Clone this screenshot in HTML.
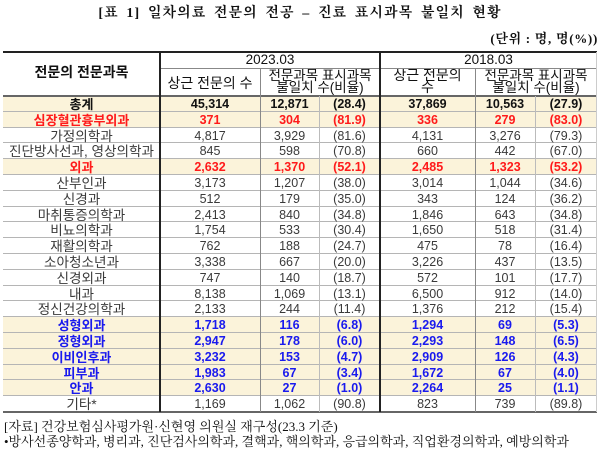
<!DOCTYPE html>
<html>
<head>
<meta charset="utf-8">
<style>
  html,body{margin:0;padding:0;background:#fff;}
  body{width:600px;height:452px;position:relative;overflow:hidden;font-family:"Liberation Sans","Noto Sans CJK KR",sans-serif;}
  .title{position:absolute;left:0;width:600px;top:4px;text-align:center;font-family:"Liberation Serif","Noto Serif CJK KR","Noto Serif CJK SC",serif;font-weight:bold;font-size:14px;letter-spacing:1.1px;word-spacing:3px;color:#111;line-height:20px;white-space:nowrap;}
  .unit{position:absolute;right:2px;top:30px;font-family:"Liberation Serif","Noto Serif CJK KR","Noto Serif CJK SC",serif;font-weight:bold;font-size:13px;letter-spacing:0.7px;color:#111;line-height:18px;white-space:nowrap;}
  .foot{position:absolute;left:4px;font-family:"Liberation Serif","Noto Serif CJK KR","Noto Serif CJK SC",serif;font-size:13px;color:#111;white-space:nowrap;line-height:15px;}
  .hline{position:absolute;height:0;}
  .vline{position:absolute;width:0;}
  .hd{position:absolute;text-align:center;font-size:13.5px;color:#111;line-height:12px;white-space:nowrap;}
  .row{position:absolute;left:3px;width:594px;height:15.8px;box-sizing:border-box;border-bottom:1px solid #b5b5b5;}
  .row span{position:absolute;top:1px;line-height:15px;text-align:center;font-size:12.5px;color:#3a3a3a;white-space:nowrap;}
  .row span.c0{font-size:13.6px;}
  .row .c0{left:0;width:157px;}
  .row .c1{left:157px;width:100px;}
  .row .c2{left:257px;width:59px;}
  .row .c3{left:316px;width:61px;}
  .row .c4{left:377px;width:95px;}
  .row .c5{left:472px;width:60px;}
  .row .c6{left:532px;width:62px;}
  .hl{background:#fbf3da;}
  .bk span{font-weight:bold;color:#111;}
  .rd span{font-weight:bold;color:#ff1a1a;}
  .bl span{font-weight:bold;color:#1a1aee;}
  .bk span.c0,.rd span.c0,.bl span.c0{font-size:13px;}
</style>
</head>
<body>
<div class="title">[표 1] 일차의료 전문의 전공 – 진료 표시과목 불일치 현황</div>
<div class="unit">(단위 : 명, 명(%))</div>

<!-- header texts -->
<div class="hd" style="left:3px;width:157px;top:66px;font-weight:bold;font-size:14px;">전문의 전문과목</div>
<div class="hd" style="left:160px;width:220px;top:54px;">2023.03</div>
<div class="hd" style="left:380px;width:217px;top:54px;">2018.03</div>
<div class="hd" style="left:160px;width:100px;top:77px;font-size:14px;">상근 전문의 수</div>
<div class="hd" style="left:260px;width:120px;top:70px;line-height:11.5px;">전문과목 표시과목<br>불일치 수(비율)</div>
<div class="hd" style="left:380px;width:95px;top:70px;line-height:11.5px;font-size:14px;">상근 전문의<br>수</div>
<div class="hd" style="left:475px;width:122px;top:70px;line-height:11.5px;">전문과목 표시과목<br>불일치 수(비율)</div>

<!-- rows -->
<div class="row hl bk" style="top:96px;"><span class="c0">총계</span><span class="c1">45,314</span><span class="c2">12,871</span><span class="c3">(28.4)</span><span class="c4">37,869</span><span class="c5">10,563</span><span class="c6">(27.9)</span></div>
<div class="row hl rd" style="top:111.8px;"><span class="c0">심장혈관흉부외과</span><span class="c1">371</span><span class="c2">304</span><span class="c3">(81.9)</span><span class="c4">336</span><span class="c5">279</span><span class="c6">(83.0)</span></div>
<div class="row" style="top:127.6px;"><span class="c0">가정의학과</span><span class="c1">4,817</span><span class="c2">3,929</span><span class="c3">(81.6)</span><span class="c4">4,131</span><span class="c5">3,276</span><span class="c6">(79.3)</span></div>
<div class="row" style="top:143.4px;"><span class="c0">진단방사선과, 영상의학과</span><span class="c1">845</span><span class="c2">598</span><span class="c3">(70.8)</span><span class="c4">660</span><span class="c5">442</span><span class="c6">(67.0)</span></div>
<div class="row hl rd" style="top:159.2px;"><span class="c0">외과</span><span class="c1">2,632</span><span class="c2">1,370</span><span class="c3">(52.1)</span><span class="c4">2,485</span><span class="c5">1,323</span><span class="c6">(53.2)</span></div>
<div class="row" style="top:175px;"><span class="c0">산부인과</span><span class="c1">3,173</span><span class="c2">1,207</span><span class="c3">(38.0)</span><span class="c4">3,014</span><span class="c5">1,044</span><span class="c6">(34.6)</span></div>
<div class="row" style="top:190.8px;"><span class="c0">신경과</span><span class="c1">512</span><span class="c2">179</span><span class="c3">(35.0)</span><span class="c4">343</span><span class="c5">124</span><span class="c6">(36.2)</span></div>
<div class="row" style="top:206.6px;"><span class="c0">마취통증의학과</span><span class="c1">2,413</span><span class="c2">840</span><span class="c3">(34.8)</span><span class="c4">1,846</span><span class="c5">643</span><span class="c6">(34.8)</span></div>
<div class="row" style="top:222.4px;"><span class="c0">비뇨의학과</span><span class="c1">1,754</span><span class="c2">533</span><span class="c3">(30.4)</span><span class="c4">1,650</span><span class="c5">518</span><span class="c6">(31.4)</span></div>
<div class="row" style="top:238.2px;"><span class="c0">재활의학과</span><span class="c1">762</span><span class="c2">188</span><span class="c3">(24.7)</span><span class="c4">475</span><span class="c5">78</span><span class="c6">(16.4)</span></div>
<div class="row" style="top:254px;"><span class="c0">소아청소년과</span><span class="c1">3,338</span><span class="c2">667</span><span class="c3">(20.0)</span><span class="c4">3,226</span><span class="c5">437</span><span class="c6">(13.5)</span></div>
<div class="row" style="top:269.8px;"><span class="c0">신경외과</span><span class="c1">747</span><span class="c2">140</span><span class="c3">(18.7)</span><span class="c4">572</span><span class="c5">101</span><span class="c6">(17.7)</span></div>
<div class="row" style="top:285.6px;"><span class="c0">내과</span><span class="c1">8,138</span><span class="c2">1,069</span><span class="c3">(13.1)</span><span class="c4">6,500</span><span class="c5">912</span><span class="c6">(14.0)</span></div>
<div class="row" style="top:301.4px;"><span class="c0">정신건강의학과</span><span class="c1">2,133</span><span class="c2">244</span><span class="c3">(11.4)</span><span class="c4">1,376</span><span class="c5">212</span><span class="c6">(15.4)</span></div>
<div class="row hl bl" style="top:317.2px;"><span class="c0">성형외과</span><span class="c1">1,718</span><span class="c2">116</span><span class="c3">(6.8)</span><span class="c4">1,294</span><span class="c5">69</span><span class="c6">(5.3)</span></div>
<div class="row hl bl" style="top:333px;"><span class="c0">정형외과</span><span class="c1">2,947</span><span class="c2">178</span><span class="c3">(6.0)</span><span class="c4">2,293</span><span class="c5">148</span><span class="c6">(6.5)</span></div>
<div class="row hl bl" style="top:348.8px;"><span class="c0">이비인후과</span><span class="c1">3,232</span><span class="c2">153</span><span class="c3">(4.7)</span><span class="c4">2,909</span><span class="c5">126</span><span class="c6">(4.3)</span></div>
<div class="row hl bl" style="top:364.6px;"><span class="c0">피부과</span><span class="c1">1,983</span><span class="c2">67</span><span class="c3">(3.4)</span><span class="c4">1,672</span><span class="c5">67</span><span class="c6">(4.0)</span></div>
<div class="row hl bl" style="top:380.4px;"><span class="c0">안과</span><span class="c1">2,630</span><span class="c2">27</span><span class="c3">(1.0)</span><span class="c4">2,264</span><span class="c5">25</span><span class="c6">(1.1)</span></div>
<div class="row" style="top:396.2px;border-bottom:none;"><span class="c0">기타*</span><span class="c1">1,169</span><span class="c2">1,062</span><span class="c3">(90.8)</span><span class="c4">823</span><span class="c5">739</span><span class="c6">(89.8)</span></div>

<!-- lines -->
<div class="hline" style="left:3px;width:594px;top:51px;border-top:2px solid #222;"></div>
<div class="hline" style="left:160px;width:437px;top:67.5px;border-top:1px solid #888;"></div>
<div class="hline" style="left:3px;width:594px;top:95px;border-top:2px solid #666;"></div>
<div class="hline" style="left:3px;width:594px;top:411px;border-top:2px solid #666;"></div>

<div class="vline" style="left:159px;top:52px;height:360px;border-left:2px solid #222;"></div>
<div class="vline" style="left:379px;top:52px;height:360px;border-left:2px solid #222;"></div>
<div class="vline" style="left:260px;top:68px;height:344px;border-left:1px solid #888;"></div>
<div class="vline" style="left:475px;top:68px;height:344px;border-left:1px solid #888;"></div>
<div class="vline" style="left:319px;top:96px;height:316px;border-left:1px solid #bbb;"></div>
<div class="vline" style="left:535px;top:96px;height:316px;border-left:1px solid #bbb;"></div>
<div class="vline" style="left:596px;top:52px;height:360px;border-left:1px solid #ccc;"></div>

<div class="foot" style="top:419px;">[자료] 건강보험심사평가원·신현영 의원실 재구성(23.3 기준)</div>
<div class="foot" style="top:434px;">•방사선종양학과, 병리과, 진단검사의학과, 결핵과, 핵의학과, 응급의학과, 직업환경의학과, 예방의학과</div>
</body>
</html>
